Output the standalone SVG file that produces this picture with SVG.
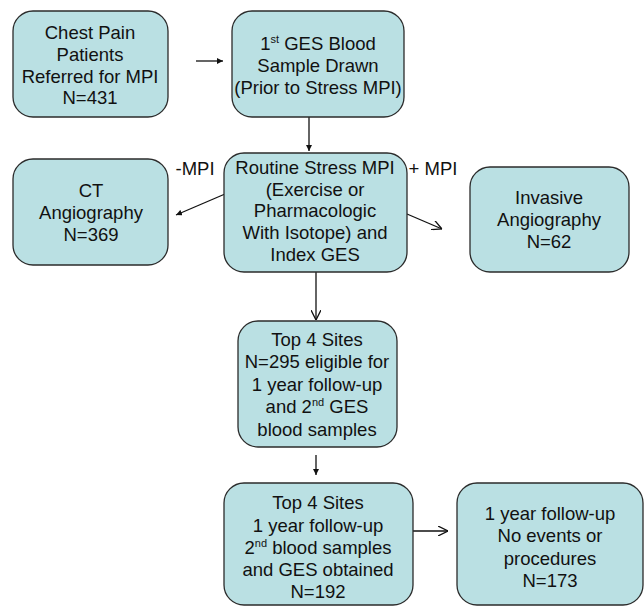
<svg xmlns="http://www.w3.org/2000/svg" width="644" height="607" viewBox="0 0 644 607">
<defs>
<marker id="fa" viewBox="0 0 10 10" refX="10" refY="5" markerWidth="6" markerHeight="6" markerUnits="userSpaceOnUse" orient="auto"><path d="M0,0 L10,5 L0,10 z" fill="#111"/></marker>
<marker id="oa" viewBox="0 0 10 10" refX="10" refY="5" markerWidth="10" markerHeight="10" markerUnits="userSpaceOnUse" orient="auto"><path d="M0,0 L10,5 L0,10" fill="none" stroke="#111" stroke-width="1.3"/></marker>
</defs>
<style>
.box{fill:#bae0e3;stroke:#2b2b2b;stroke-width:1.3}
text{font-family:"Liberation Sans",Arial,sans-serif;font-size:18.5px;fill:#111;text-anchor:middle}
.sup{font-size:11px}
.c{stroke:#111;stroke-width:1.3;fill:none}
</style>
<rect width="644" height="607" fill="#fff"/>
<g id="connectors">
<line class="c" x1="196" y1="61" x2="223" y2="61" marker-end="url(#fa)"/>
<line class="c" x1="309" y1="117" x2="309" y2="151" marker-end="url(#fa)"/>
<line class="c" x1="225" y1="194" x2="176" y2="215" marker-end="url(#fa)"/>
<line class="c" x1="407" y1="214" x2="442" y2="229" marker-end="url(#oa)"/>
<line class="c" x1="316" y1="272" x2="316" y2="320" marker-end="url(#oa)"/>
<line class="c" x1="316" y1="455" x2="316" y2="475" marker-end="url(#fa)"/>
<line class="c" x1="413" y1="531" x2="448" y2="531" marker-end="url(#oa)"/>
</g>
<g id="n1">
<rect class="box" x="13" y="11" width="155" height="106" rx="20"/>
<text x="90" y="39">Chest Pain</text>
<text x="90" y="61">Patients</text>
<text x="90" y="83">Referred for MPI</text>
<text x="90" y="104">N=431</text>
</g>
<g id="n2">
<rect class="box" x="232" y="11" width="172" height="106" rx="20"/>
<text x="318" y="50">1<tspan class="sup" dy="-7">st</tspan><tspan dy="7"> GES Blood</tspan></text>
<text x="318" y="72">Sample Drawn</text>
<text x="318" y="94">(Prior to Stress MPI)</text>
</g>
<g id="n3">
<rect class="box" x="224" y="153" width="183" height="119" rx="20"/>
<text x="315" y="174">Routine Stress MPI</text>
<text x="315" y="196">(Exercise or</text>
<text x="315" y="217">Pharmacologic</text>
<text x="315" y="239">With Isotope) and</text>
<text x="315" y="261">Index GES</text>
</g>
<text x="195" y="175">-MPI</text>
<text x="433" y="175">+ MPI</text>
<g id="n4">
<rect class="box" x="13" y="159" width="155" height="106" rx="20"/>
<text x="91" y="197">CT</text>
<text x="91" y="219">Angiography</text>
<text x="91" y="241">N=369</text>
</g>
<g id="n5">
<rect class="box" x="470" y="167" width="159" height="105" rx="20"/>
<text x="549" y="204">Invasive</text>
<text x="549" y="226">Angiography</text>
<text x="549" y="248">N=62</text>
</g>
<g id="n6">
<rect class="box" x="238" y="321" width="159" height="126" rx="20"/>
<text x="317" y="346">Top 4 Sites</text>
<text x="317" y="368">N=295 eligible for</text>
<text x="317" y="391">1 year follow-up</text>
<text x="317" y="413">and 2<tspan class="sup" dy="-7">nd</tspan><tspan dy="7"> GES</tspan></text>
<text x="317" y="436">blood samples</text>
</g>
<g id="n7">
<rect class="box" x="224" y="483" width="189" height="122" rx="20"/>
<text x="318" y="509">Top 4 Sites</text>
<text x="318" y="532">1 year follow-up</text>
<text x="318" y="554">2<tspan class="sup" dy="-7">nd</tspan><tspan dy="7"> blood samples</tspan></text>
<text x="318" y="576">and GES obtained</text>
<text x="318" y="598">N=192</text>
</g>
<g id="n8">
<rect class="box" x="457" y="483" width="186" height="122" rx="20"/>
<text x="550" y="520">1 year follow-up</text>
<text x="550" y="542">No events or</text>
<text x="550" y="565">procedures</text>
<text x="550" y="587">N=173</text>
</g>
</svg>
